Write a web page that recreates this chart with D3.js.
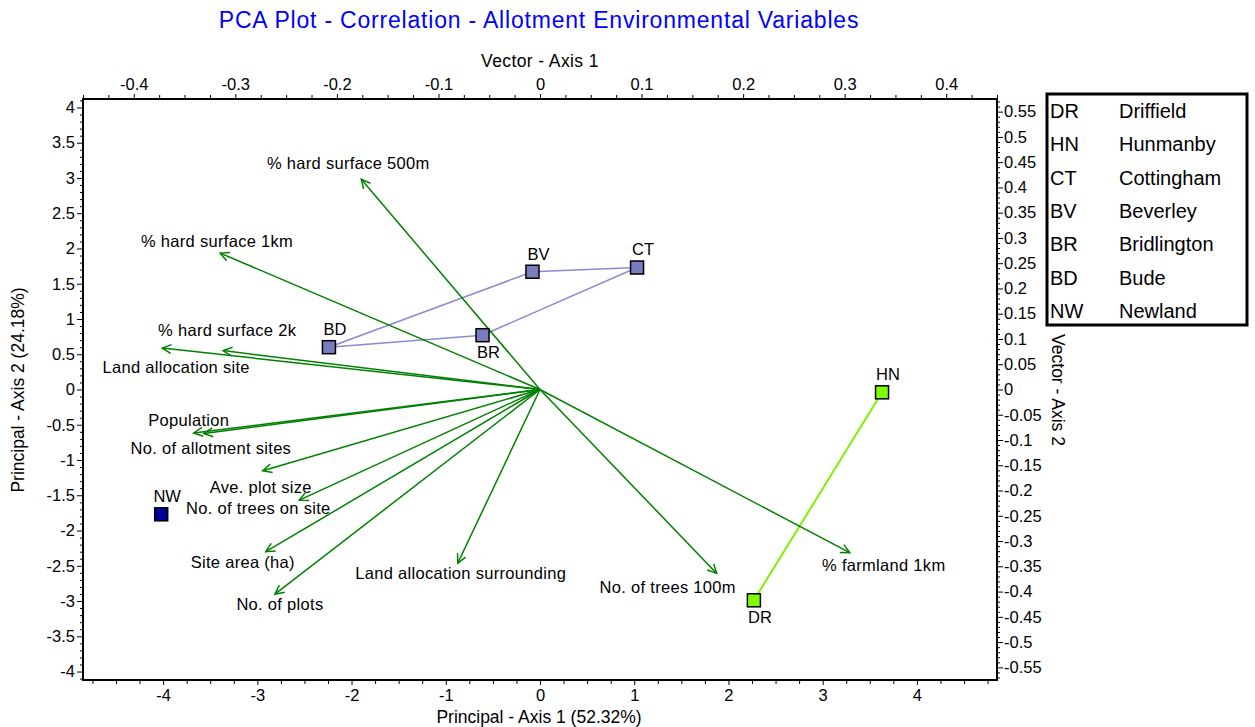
<!DOCTYPE html>
<html>
<head>
<meta charset="utf-8">
<script src="https://cdn.jsdelivr.net/npm/d3@7"></script>
<style>
  html, body { margin: 0; padding: 0; background: #fff; }
  svg { display: block; font-family: "Liberation Sans", Arial, sans-serif; }
</style>
</head>
<body>
<svg id="chart" width="1255" height="727"></svg>
<script>
// Site scores on the first two principal axes
const siteCodes = ["DR", "HN", "CT", "BV", "BR", "BD", "NW"];
const siteNames = ["Driffield", "Hunmanby", "Cottingham", "Beverley", "Bridlington", "Bude", "Newland"];
const siteAxis1 = [2.27, 3.63, 1.03, -0.08, -0.61, -2.24, -4.02];
const siteAxis2 = [-2.99, -0.04, 1.73, 1.67, 0.77, 0.60, -1.77];
const siteGroup = ["rural", "rural", "town", "town", "town", "town", "city"];
// Outline drawn round the town group
const townOutline = ["BD", "BV", "CT", "BR", "BD"];
// Which side of its marker each site code is written
const siteLabelSide = ["below", "above", "above", "above", "below", "above", "above"];

// Variable loadings (correlation vectors)
const variables = [
  "% hard surface 500m", "% hard surface 1km", "% hard surface 2k", "Land allocation site",
  "Population", "No. of allotment sites", "Ave. plot size", "No. of trees on site",
  "Site area (ha)", "No. of plots", "Land allocation surrounding", "No. of trees 100m",
  "% farmland 1km"
];
const vecAxis1 = [-0.176, -0.315, -0.312, -0.372, -0.341, -0.331, -0.273, -0.237, -0.270, -0.261, -0.081, 0.174, 0.305];
const vecAxis2 = [0.416, 0.270, 0.077, 0.082, -0.086, -0.087, -0.161, -0.219, -0.321, -0.405, -0.344, -0.364, -0.323];

// Tick values
const pcXTicks = [-4, -3, -2, -1, 0, 1, 2, 3, 4];
const pcYTicks = d3.range(-8, 9).map(d => d / 2);
const vecXTicks = d3.range(-4, 5).map(d => d / 10);
const vecYTicks = d3.range(-11, 12).map(d => d / 20);

// Text nudges for vector labels, in pixels from the arrow tip
const vecLabelNudge = [
  [-13, -16], [-3, -12], [4, -20], [14, 19], [-5, -13], [7, 15], [-2, 16],
  [-41, 8], [-23, 11], [5, 10], [3, 10], [-49, 14], [34, 13]
];

const groupFill = { town: "#7b7bbf", rural: "#80ff00", city: "#000099" };
const groupLine = { town: "#8a8ad0", rural: "#80f000" };

const svg = d3.select("#chart");
const L = 83, R = 997, T = 99, B = 680;

const x = d3.scaleLinear().domain([-4.85, 4.85]).range([L, R]);
const y = d3.scaleLinear().domain([-4.12, 4.12]).range([B, T]);
const vx = d3.scaleLinear().domain([-0.45, 0.45]).range([L, R]);
const vy = d3.scaleLinear().domain([-0.575, 0.575]).range([B, T]);

const fmt = d => String(Math.round(d * 100) / 100);
const font = 16.5;

function drawAxis(axisFn, scale, major, minor, transform, majorLen, minorLen, pad) {
  const gMinor = svg.append("g").attr("transform", transform)
    .call(axisFn(scale).tickValues(minor).tickSize(minorLen).tickFormat(""));
  gMinor.select(".domain").remove();
  gMinor.selectAll("line").attr("stroke", "#000").attr("stroke-width", 1);
  const g = svg.append("g").attr("transform", transform)
    .call(axisFn(scale).tickValues(major).tickSize(majorLen).tickPadding(pad).tickFormat(fmt));
  g.select(".domain").remove();
  g.selectAll("line").attr("stroke", "#000").attr("stroke-width", 1);
  g.selectAll("text").attr("font-size", font).attr("fill", "#000")
    .attr("font-family", '"Liberation Sans", Arial, sans-serif');
  return g;
}

const isMajor = (v, majors) => majors.some(m => Math.abs(m - v) < 1e-9);

drawAxis(d3.axisBottom, x, pcXTicks,
  d3.range(-19, 20).map(d => d / 4).filter(v => !isMajor(v, pcXTicks)),
  `translate(0,${B})`, 5, 4, 4);
drawAxis(d3.axisLeft, y, pcYTicks,
  d3.range(-41, 42).map(d => d / 10).filter(v => !isMajor(v, pcYTicks)),
  `translate(${L},0)`, 6, 3, 2);
drawAxis(d3.axisTop, vx, vecXTicks,
  d3.range(-18, 19).map(d => d / 40).filter(v => !isMajor(v, vecXTicks)),
  `translate(0,${T})`, 5, 4, 4);
drawAxis(d3.axisRight, vy, vecYTicks,
  d3.range(-57, 58).map(d => d / 100).filter(v => !isMajor(v, vecYTicks)),
  `translate(${R},0)`, 6, 3, 1);

// Plot frame
svg.append("rect").attr("x", L).attr("y", T).attr("width", R - L).attr("height", B - T)
  .attr("fill", "none").attr("stroke", "#000").attr("stroke-width", 2);

// Titles
svg.append("text").attr("x", 539).attr("y", 22).attr("text-anchor", "middle")
  .attr("dominant-baseline", "middle").attr("font-size", 23).attr("letter-spacing", 0.8)
  .attr("fill", "#0000ff")
  .text("PCA Plot - Correlation - Allotment Environmental Variables");
svg.append("text").attr("x", 540).attr("y", 62).attr("text-anchor", "middle")
  .attr("dominant-baseline", "middle").attr("font-size", 17.5).attr("letter-spacing", 0.4)
  .text("Vector - Axis 1");
svg.append("text").attr("x", 539).attr("y", 718).attr("text-anchor", "middle")
  .attr("dominant-baseline", "middle").attr("font-size", 17.5).text("Principal - Axis 1 (52.32%)");
svg.append("text").attr("transform", "translate(19,390) rotate(-90)").attr("text-anchor", "middle")
  .attr("dominant-baseline", "middle").attr("font-size", 17.5).text("Principal - Axis 2 (24.18%)");
svg.append("text").attr("transform", "translate(1057,390) rotate(90)").attr("text-anchor", "middle")
  .attr("dominant-baseline", "middle").attr("font-size", 17.5).text("Vector - Axis 2");

// Group connector lines
const siteIdx = c => siteCodes.indexOf(c);
const line = d3.line().x(c => x(siteAxis1[siteIdx(c)])).y(c => y(siteAxis2[siteIdx(c)]));
svg.append("path").attr("d", line(townOutline)).attr("fill", "none")
  .attr("stroke", groupLine.town).attr("stroke-width", 1.5);
const ruralSites = siteCodes.filter((c, i) => siteGroup[i] === "rural");
svg.append("path").attr("d", line(ruralSites)).attr("fill", "none")
  .attr("stroke", groupLine.rural).attr("stroke-width", 2);

// Loading vectors
const ox = vx(0), oy = vy(0);
const vg = svg.append("g");
variables.forEach((name, i) => {
  const tx = vx(vecAxis1[i]), ty = vy(vecAxis2[i]);
  vg.append("line").attr("x1", ox).attr("y1", oy).attr("x2", tx).attr("y2", ty)
    .attr("stroke", "#008000").attr("stroke-width", 1.5);
  const back = Math.atan2(oy - ty, ox - tx);
  const len = 10, spread = 0.46;
  const a1 = back + spread, a2 = back - spread;
  vg.append("path")
    .attr("d", `M${tx + len * Math.cos(a1)},${ty + len * Math.sin(a1)}L${tx},${ty}L${tx + len * Math.cos(a2)},${ty + len * Math.sin(a2)}`)
    .attr("fill", "none").attr("stroke", "#008000").attr("stroke-width", 1.5);
  vg.append("text").attr("x", tx + vecLabelNudge[i][0]).attr("y", ty + vecLabelNudge[i][1])
    .attr("text-anchor", "middle").attr("dy", "0.35em").attr("font-size", font)
    .attr("letter-spacing", 0.3).text(name);
});

// Site markers
const size = 13;
siteCodes.forEach((code, i) => {
  const cx = x(siteAxis1[i]), cy = y(siteAxis2[i]);
  svg.append("rect").attr("x", cx - size / 2).attr("y", cy - size / 2)
    .attr("width", size).attr("height", size)
    .attr("fill", groupFill[siteGroup[i]]).attr("stroke", "#000").attr("stroke-width", 1.5);
  const above = siteLabelSide[i] === "above";
  svg.append("text").attr("x", cx + 6).attr("y", cy + (above ? -18 : 17))
    .attr("text-anchor", "middle").attr("dy", "0.35em").attr("font-size", font).text(code);
});

// Site key
const key = svg.append("g");
key.append("rect").attr("x", 1047).attr("y", 94).attr("width", 200).attr("height", 231)
  .attr("fill", "#fff").attr("stroke", "#000").attr("stroke-width", 3);
const keyY = d3.scaleLinear().domain([0, siteCodes.length - 1]).range([111, 311]);
siteCodes.forEach((code, i) => {
  key.append("text").attr("x", 1050).attr("y", keyY(i)).attr("dy", "0.35em")
    .attr("font-size", 20).text(code);
  key.append("text").attr("x", 1119).attr("y", keyY(i)).attr("dy", "0.35em")
    .attr("font-size", 20).text(siteNames[i]);
});
</script>
</body>
</html>
